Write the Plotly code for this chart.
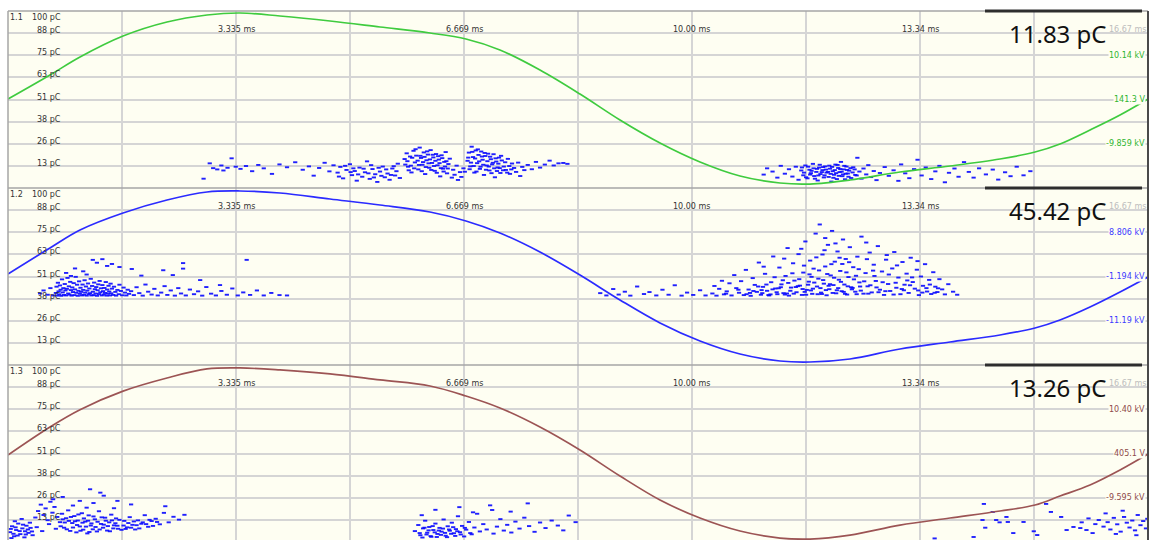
import plotly.graph_objects as go

# ---------------------------------------------------------------- layout sizes
FIG_W, FIG_H = 1151, 540
M_L, M_R, M_T, M_B = 8, 3, 11, 0
PANEL_PX = 177                      # height of one phase panel in pixels
PERIOD_MS = 16.67                   # one 60 Hz cycle

# ---------------------------------------------------------------- axis labels
pc_levels = [100, 87.625, 75.25, 62.875, 50.5, 38.125, 25.75, 13.375, 1.0]
pc_labels = ["100 pC", "88 pC", "75 pC", "63 pC", "51 pC", "38 pC", "26 pC", "13 pC", "1.0 pC"]
ms_label_pos = [3.335, 6.669, 10.00, 13.34, 16.67]
ms_labels = ["3.335 ms", "6.669 ms", "10.00 ms", "13.34 ms", "16.67 ms"]

panel_ids = ["1.1", "1.2", "1.3"]
peak_labels = ["11.83 pC", "45.42 pC", "13.26 pC"]
kv_labels = [["10.14 kV", "141.3 V", "-9.859 kV"],
             ["8.806 kV", "-1.194 kV", "-11.19 kV"],
             ["10.40 kV", "405.1 V", "-9.595 kV"]]
kv_values = [[10.14, 0.1413, -9.859],
             [8.806, -1.194, -11.19],
             [10.40, 0.4051, -9.595]]
trace_colors = ["#3fcb3f", "#2b2bff", "#9c5454"]
kv_label_colors = ["#2fb52f", "#3a3aff", "#8e4a4a"]

# ---------------------------------------------------------------- test voltage (kV)
wave_ms = [0.0, 0.614, 1.053, 1.682, 2.325, 2.910, 3.393, 3.977, 4.709, 5.440,
           6.171, 6.697, 7.194, 7.779, 8.364, 8.949, 9.534, 10.119, 10.704, 11.289,
           11.727, 12.312, 13.044, 13.775, 14.506, 15.018, 15.383, 15.822, 16.261, 16.670]
wave_kv_1 = [0.25, 5.68, 9.75, 14.49, 17.66, 19.24, 19.69, 19.01, 17.88, 16.53,
             15.17, 13.81, 11.33, 6.81, 1.38, -4.49, -9.69, -13.98, -17.15, -18.73,
             -18.96, -18.05, -16.24, -14.89, -13.31, -11.73, -9.92, -6.76, -3.37, 0.25]
wave_kv_2 = [-0.63, 5.25, 9.32, 13.16, 16.09, 17.90, 18.13, 17.68, 16.32, 14.96,
             13.38, 11.35, 8.64, 4.34, -0.86, -6.50, -11.70, -15.77, -18.71, -20.29,
             -20.52, -19.84, -17.58, -15.99, -14.41, -12.83, -11.02, -8.09, -4.70, -1.31]
wave_kv_3 = [0.07, 6.40, 10.30, 14.50, 17.47, 19.50, 19.73, 19.28, 18.37, 17.02,
             15.66, 13.40, 10.69, 6.39, 1.20, -4.68, -10.10, -14.17, -17.11, -18.69,
             -18.92, -18.02, -15.76, -14.17, -12.59, -11.23, -9.20, -6.71, -3.32, 0.29]

# ---------------------------------------------------------------- PD pulses (ms, pC)
pulses_1 = [
    (2.86, 6.2), (2.95, 14.8), (3.00, 12.1), (3.06, 11.4), (3.12, 13.6), (3.15, 10.8), (3.21, 12.3),
    (3.27, 17.6), (3.33, 12.9), (3.40, 11.7), (3.48, 13.3), (3.57, 10.4), (3.66, 13.9), (3.74, 12.0),
    (3.86, 8.9), (3.97, 14.2), (4.08, 12.6), (4.20, 15.4), (4.31, 11.2), (4.40, 13.1), (4.47, 7.9),
    (4.55, 12.2), (4.63, 15.1), (4.70, 10.3), (4.76, 13.7),
    (4.82, 9.6), (4.86, 12.8), (4.90, 6.4), (4.95, 11.1), (5.00, 14.3), (5.03, 8.2), (5.07, 10.5),
    (5.10, 5.1), (5.14, 12.4), (5.18, 7.3), (5.22, 9.8), (5.25, 15.9), (5.29, 6.1), (5.33, 11.6),
    (5.37, 8.7), (5.40, 4.4), (5.44, 10.2), (5.48, 13.0), (5.51, 7.0), (5.55, 9.1), (5.58, 5.6),
    (5.62, 11.9), (5.66, 8.0), (5.70, 14.6), (5.73, 6.6),
    (4.84, 7.4), (4.93, 13.4), (5.01, 9.9), (5.05, 12.0), (5.12, 8.6), (5.20, 11.8), (5.27, 9.2),
    (5.31, 13.8), (5.35, 6.9), (5.42, 12.3), (5.46, 7.8), (5.53, 11.4), (5.60, 8.3), (5.64, 13.2),
    (5.68, 10.4),
    (5.80, 17.2), (5.83, 20.4), (5.85, 12.9), (5.88, 18.6), (5.90, 9.7), (5.93, 21.8), (5.95, 15.3),
    (5.97, 19.1), (6.00, 11.4), (6.02, 23.6), (6.04, 17.8), (6.06, 14.0), (6.08, 20.9), (6.10, 8.8),
    (6.12, 16.5), (6.14, 19.7), (6.16, 12.3), (6.18, 22.2), (6.20, 15.0), (6.22, 18.1), (6.24, 10.6),
    (6.26, 20.0), (6.28, 13.7), (6.30, 16.9), (6.32, 7.5), (6.34, 19.3), (6.36, 11.8), (6.38, 15.6),
    (6.40, 21.1), (6.42, 9.2), (6.44, 14.4), (6.46, 17.4),
    (5.81, 14.1), (5.84, 16.0), (5.86, 10.9), (5.89, 13.5), (5.91, 17.9), (5.94, 12.0), (5.96, 22.7),
    (5.99, 16.3), (6.01, 13.9), (6.03, 19.0), (6.05, 10.4), (6.07, 15.5), (6.09, 18.4), (6.11, 12.7),
    (6.13, 21.5), (6.15, 14.8), (6.17, 17.0), (6.19, 11.1), (6.21, 19.6), (6.23, 13.3), (6.25, 16.2),
    (6.27, 9.5), (6.29, 18.8), (6.31, 14.9), (6.33, 12.1), (6.35, 17.7), (6.37, 10.2), (6.39, 13.0),
    (6.41, 16.0), (6.43, 11.9),
    (6.49, 6.8), (6.51, 11.2), (6.53, 8.4), (6.56, 13.5), (6.58, 5.5), (6.61, 9.9), (6.63, 7.2),
    (6.66, 12.0), (6.68, 10.1),
    (6.72, 16.2), (6.74, 20.8), (6.76, 13.1), (6.78, 24.1), (6.80, 18.3), (6.82, 9.6), (6.84, 22.0),
    (6.86, 14.9), (6.88, 19.5), (6.90, 11.7), (6.92, 21.4), (6.94, 16.8), (6.96, 8.3), (6.98, 18.9),
    (7.00, 13.6), (7.02, 20.2), (7.04, 10.8), (7.06, 17.1), (7.08, 14.2), (7.10, 19.9), (7.12, 7.0),
    (7.14, 15.8), (7.16, 12.5), (7.18, 18.0), (7.20, 9.4), (7.22, 16.4), (7.25, 13.0), (7.28, 11.1),
    (7.31, 17.3), (7.34, 8.9), (7.37, 14.7), (7.40, 12.2), (7.43, 10.0), (7.46, 15.2), (7.49, 7.7),
    (7.52, 12.8), (7.55, 11.0),
    (6.73, 18.0), (6.75, 11.5), (6.77, 15.2), (6.79, 21.2), (6.81, 13.3), (6.83, 17.5), (6.85, 10.2),
    (6.87, 22.6), (6.89, 15.9), (6.91, 12.9), (6.93, 18.6), (6.95, 14.0), (6.97, 20.6), (6.99, 11.2),
    (7.01, 16.0), (7.03, 13.0), (7.05, 18.5), (7.07, 9.3), (7.09, 15.1), (7.11, 12.0), (7.13, 17.6),
    (7.15, 10.5), (7.17, 14.6), (7.19, 12.1), (7.21, 19.0), (7.24, 10.9), (7.27, 15.4), (7.30, 9.6),
    (7.33, 13.3), (7.36, 11.4),
    (7.60, 13.9), (7.66, 11.5), (7.72, 15.6), (7.78, 12.4), (7.85, 14.1), (7.92, 16.3), (7.98, 13.6),
    (8.05, 14.8), (8.12, 15.0), (8.18, 14.5),
    (11.05, 8.5), (11.10, 12.0), (11.18, 10.2), (11.25, 6.8), (11.30, 13.4), (11.36, 9.0), (11.42, 11.5),
    (11.47, 7.4), (11.52, 12.9), (11.56, 5.6), (11.60, 10.8), (11.63, 8.1), (11.66, 13.6), (11.69, 6.4),
    (11.72, 11.2), (11.74, 9.3), (11.77, 14.5), (11.79, 7.7), (11.82, 10.0), (11.84, 5.2), (11.86, 12.4),
    (11.88, 8.8), (11.91, 11.0), (11.93, 6.9), (11.95, 13.1), (11.97, 9.6), (12.00, 7.2), (12.02, 11.8),
    (12.04, 4.6), (12.06, 10.4), (12.08, 8.4), (12.10, 14.1), (12.12, 6.0), (12.14, 12.2), (12.16, 9.9),
    (12.18, 15.6), (12.20, 7.6), (12.22, 11.4), (12.24, 5.9), (12.26, 13.0), (12.28, 9.1), (12.30, 10.7),
    (12.33, 6.6), (12.36, 12.6), (12.39, 8.3), (12.42, 17.9), (12.45, 10.2), (12.48, 6.2), (12.51, 11.9),
    (12.55, 8.6), (12.58, 13.8), (12.62, 7.1), (12.66, 10.5), (12.70, 5.4), (12.75, 9.4),
    (11.61, 12.5), (11.64, 9.6), (11.67, 7.0), (11.70, 12.9), (11.73, 8.5), (11.75, 10.6), (11.78, 12.0),
    (11.80, 6.2), (11.83, 11.7), (11.85, 8.0), (11.87, 14.0), (11.90, 9.9), (11.92, 12.7), (11.94, 8.1),
    (11.96, 11.3), (11.99, 10.0), (12.01, 13.5), (12.03, 8.9), (12.05, 12.8), (12.07, 6.7), (12.09, 11.0),
    (12.11, 9.3), (12.13, 13.9), (12.15, 7.8), (12.17, 11.6), (12.19, 10.1), (12.21, 8.6), (12.23, 13.4),
    (12.25, 9.0), (12.27, 11.1), (12.29, 7.3), (12.32, 12.1), (12.35, 9.7), (12.38, 11.4), (12.41, 8.0),
    (12.82, 12.7), (12.88, 7.8), (12.95, 10.9), (13.02, 5.0), (13.06, 14.2), (13.12, 9.2), (13.18, 6.5),
    (13.25, 11.6), (13.30, 16.8), (13.36, 8.0), (13.42, 12.5), (13.50, 6.0), (13.56, 10.3), (13.62, 13.4),
    (13.70, 4.2), (13.76, 9.5), (13.84, 11.9), (13.90, 7.3), (13.98, 15.5), (14.05, 10.0), (14.12, 6.8),
    (14.20, 12.0), (14.30, 8.6), (14.40, 11.3), (14.48, 5.7), (14.58, 9.8), (14.66, 7.6), (14.75, 12.9),
    (14.85, 8.1), (14.95, 10.4),
]

pulses_2 = [
    (0.47, 41.0), (0.52, 42.7), (0.58, 40.3), (0.62, 44.0), (0.66, 39.9),
    (0.70, 41.3), (0.71, 44.8), (0.72, 39.8), (0.73, 47.0), (0.74, 42.2), (0.75, 40.5), (0.76, 45.5),
    (0.77, 43.1), (0.78, 39.7), (0.79, 48.9), (0.80, 41.6), (0.81, 44.0), (0.82, 40.2), (0.83, 46.3),
    (0.84, 42.7), (0.85, 39.9), (0.86, 43.6), (0.87, 49.7), (0.88, 41.0), (0.89, 45.0), (0.90, 40.4),
    (0.91, 47.5), (0.92, 42.9), (0.93, 39.8), (0.94, 44.4), (0.95, 41.8), (0.96, 46.8), (0.97, 40.1),
    (0.98, 43.3), (0.99, 50.3), (1.00, 41.4), (1.01, 45.9), (1.02, 39.7), (1.03, 42.5), (1.04, 47.8),
    (1.05, 40.8), (1.06, 44.2), (1.07, 41.9), (1.08, 39.9), (1.09, 46.0), (1.10, 43.0), (1.11, 40.3),
    (1.12, 48.4), (1.13, 41.5), (1.14, 44.9), (1.15, 39.8), (1.16, 42.6), (1.17, 46.6), (1.18, 40.6),
    (1.19, 43.8), (1.20, 41.2), (1.21, 49.2), (1.22, 39.9), (1.23, 45.2), (1.24, 42.0), (1.25, 40.1),
    (1.26, 47.1), (1.27, 43.4), (1.28, 41.0), (1.29, 44.6), (1.30, 39.7), (1.31, 42.8), (1.32, 46.1),
    (1.33, 40.7), (1.34, 48.0), (1.35, 41.7), (1.36, 43.9), (1.37, 39.9), (1.38, 45.7), (1.39, 42.3),
    (1.40, 40.4), (1.41, 44.1), (1.42, 41.3), (1.43, 47.4), (1.44, 39.8), (1.45, 43.2), (1.46, 40.9),
    (1.47, 45.3), (1.48, 42.1), (1.49, 39.9), (1.50, 46.5), (1.51, 41.1), (1.52, 43.7), (1.54, 40.2),
    (1.55, 44.8), (1.57, 41.9), (1.58, 39.8), (1.60, 43.0), (1.62, 40.6), (1.63, 45.9), (1.65, 42.4),
    (1.67, 40.0), (1.69, 44.3), (1.71, 41.5), (1.73, 39.9), (1.75, 43.1), (1.77, 40.8),
    (0.85, 52.5), (0.98, 55.0), (1.10, 53.4), (1.24, 59.8), (1.30, 58.2), (1.38, 60.2), (1.45, 56.4),
    (1.52, 57.5), (1.63, 55.8), (1.81, 54.7), (2.27, 54.0), (2.41, 51.3), (2.56, 58.0), (2.56, 54.9),
    (2.81, 48.5), (3.10, 45.7), (3.49, 59.8), (1.95, 51.0), (1.15, 51.6), (0.92, 50.8),
    (1.80, 42.3), (1.84, 40.1), (1.88, 44.5), (1.92, 41.2), (1.97, 39.8), (2.01, 46.0), (2.05, 42.0),
    (2.10, 40.4), (2.14, 43.6), (2.19, 39.9), (2.24, 41.5), (2.29, 45.1), (2.33, 40.2), (2.38, 42.7),
    (2.44, 39.8), (2.49, 44.0), (2.53, 41.0), (2.60, 39.9), (2.66, 43.2), (2.72, 40.6), (2.78, 42.2),
    (2.84, 39.8), (2.90, 44.6), (2.97, 40.9), (3.04, 39.9), (3.12, 42.4), (3.20, 40.3), (3.28, 43.8),
    (3.36, 39.9), (3.44, 41.6), (3.54, 40.2), (3.64, 42.7), (3.74, 39.9), (3.85, 41.3), (3.97, 40.1),
    (4.08, 39.9),
    (8.66, 41.2), (8.75, 39.9), (8.85, 43.5), (8.93, 40.4), (9.02, 42.0), (9.10, 39.8), (9.20, 44.9),
    (9.30, 40.7), (9.38, 41.8), (9.48, 39.9), (9.57, 43.1), (9.66, 40.3), (9.75, 45.6), (9.85, 39.8),
    (9.93, 41.5), (10.02, 40.2), (10.12, 42.8), (10.20, 39.9),
    (10.30, 41.0), (10.33, 45.2), (10.36, 39.8), (10.40, 43.6), (10.44, 48.1), (10.47, 40.5), (10.51, 42.2),
    (10.55, 46.7), (10.58, 39.9), (10.62, 51.3), (10.65, 44.0), (10.69, 41.4), (10.72, 47.9), (10.76, 40.1),
    (10.79, 54.2), (10.83, 43.2), (10.86, 39.7), (10.89, 49.6), (10.92, 45.8), (10.95, 41.9), (10.98, 58.3),
    (11.01, 40.3), (11.04, 44.7), (11.07, 52.0), (11.10, 42.5), (11.13, 39.9), (11.16, 47.3), (11.19, 61.7),
    (11.22, 43.8), (11.25, 40.6), (11.28, 55.5), (11.31, 46.1), (11.34, 41.2), (11.37, 50.8), (11.40, 66.4),
    (11.42, 39.8), (11.45, 44.3), (11.48, 57.9), (11.50, 48.2), (11.53, 41.7), (11.56, 63.0), (11.58, 45.4),
    (11.61, 40.2), (11.63, 52.7), (11.66, 70.1), (11.68, 43.0), (11.71, 47.6), (11.73, 59.4), (11.76, 40.8),
    (11.78, 54.9), (11.81, 74.5), (11.83, 44.9), (11.85, 49.3), (11.87, 79.6), (11.89, 41.5), (11.91, 62.8),
    (11.93, 46.5), (11.95, 56.1), (11.97, 40.0), (11.99, 68.2), (12.01, 43.4), (12.03, 51.1), (12.05, 76.0),
    (12.07, 45.7), (12.09, 58.8), (12.11, 41.1), (12.13, 64.5), (12.15, 48.7), (12.17, 53.6), (12.19, 42.3),
    (12.21, 71.2), (12.23, 46.0), (12.25, 60.3), (12.27, 40.4), (12.29, 50.2), (12.31, 66.9), (12.33, 44.5),
    (12.36, 55.7), (12.39, 42.0), (12.42, 61.6), (12.45, 47.2), (12.48, 72.8), (12.51, 40.9), (12.54, 52.4),
    (12.57, 45.0), (12.60, 63.9), (12.63, 41.6), (12.66, 57.1), (12.69, 48.0), (12.72, 67.5), (12.75, 43.1),
    (12.78, 53.3), (12.81, 40.2), (12.84, 59.9), (12.87, 46.3), (12.90, 42.4), (12.93, 55.0), (12.96, 64.2),
    (12.99, 44.2), (13.02, 49.9), (13.05, 40.6), (13.08, 58.6), (13.11, 45.9), (13.14, 52.1), (13.17, 41.3),
    (13.20, 61.0), (13.23, 47.4), (13.26, 43.7), (13.29, 54.3), (13.32, 40.1), (13.35, 50.5), (13.38, 45.3),
    (13.41, 57.4), (13.44, 42.1), (13.47, 48.6), (13.50, 40.7), (13.53, 52.9), (13.56, 44.8), (13.59, 41.8),
    (13.62, 49.0), (13.66, 43.3), (13.70, 40.5), (13.75, 46.2), (13.82, 42.0), (13.88, 40.3),
    (10.50, 40.9), (10.68, 43.1), (10.85, 41.3), (11.02, 42.9), (11.15, 40.5), (11.27, 43.9), (11.39, 41.0),
    (11.52, 44.6), (11.65, 41.9), (11.77, 43.7), (11.90, 40.7), (12.00, 45.3), (12.12, 42.8), (12.24, 40.8),
    (12.35, 44.1), (12.47, 42.6), (12.58, 40.9), (12.70, 44.4), (12.83, 42.3), (12.95, 40.4), (13.07, 43.5),
    (13.19, 45.6), (13.31, 42.7), (13.43, 44.0), (13.55, 41.4),
    (11.05, 56.0), (11.35, 60.5), (11.60, 66.0), (11.75, 50.3), (11.95, 72.0), (12.10, 69.0), (12.20, 57.5),
    (12.40, 50.9), (12.55, 69.5), (12.65, 53.8), (12.85, 62.5), (13.00, 56.7), (13.15, 48.3), (13.30, 59.1),
    (10.80, 40.6), (10.90, 42.4), (10.97, 44.9), (11.03, 41.2), (11.09, 46.0), (11.12, 40.1), (11.18, 43.3),
    (11.21, 50.1), (11.24, 41.7), (11.30, 44.5), (11.33, 48.4), (11.36, 40.4), (11.41, 46.9), (11.44, 42.5),
    (11.47, 52.3), (11.49, 40.9), (11.55, 45.1), (11.57, 49.0), (11.62, 43.5), (11.64, 56.6), (11.67, 40.3),
    (11.70, 45.9), (11.72, 51.7), (11.74, 42.7), (11.79, 47.1), (11.82, 61.2), (11.84, 40.6), (11.86, 53.9),
    (11.88, 44.0), (11.92, 48.5), (11.94, 65.2), (11.96, 42.9), (11.98, 51.9), (12.02, 46.2), (12.04, 57.4),
    (12.06, 41.3), (12.08, 49.8), (12.14, 44.0), (12.16, 61.0), (12.18, 47.5), (12.22, 41.9), (12.26, 52.8),
    (12.28, 45.0), (12.30, 58.5), (12.34, 43.3), (12.37, 48.9), (12.41, 40.6), (12.44, 54.6), (12.46, 44.9),
    (12.52, 47.8), (12.56, 60.2), (12.61, 45.6), (12.67, 50.8), (12.73, 41.7), (12.79, 47.3), (12.88, 51.6),
    (12.98, 47.0), (13.10, 42.8), (13.22, 50.0), (13.37, 41.5), (13.48, 46.0), (13.60, 43.9),
]

pulses_3 = [
    (0.03, 6.5), (0.06, 9.8), (0.09, 4.2), (0.12, 7.7), (0.15, 11.3), (0.18, 5.4), (0.21, 8.6),
    (0.24, 3.6), (0.27, 10.1), (0.30, 6.1), (0.33, 8.9), (0.36, 4.8), (0.10, 12.6), (0.20, 13.9),
    (0.05, 3.2), (0.25, 7.0), (0.32, 11.8),
    (0.04, 8.3), (0.08, 5.6), (0.11, 9.2), (0.14, 4.6), (0.17, 7.1), (0.22, 10.7), (0.26, 5.2),
    (0.29, 8.0), (0.35, 6.9),
    (0.40, 14.7), (0.44, 18.3), (0.48, 21.9), (0.52, 16.1), (0.55, 19.8), (0.58, 13.2), (0.62, 23.5),
    (0.65, 17.4), (0.68, 20.6), (0.72, 15.0), (0.42, 9.3), (0.50, 7.1), (0.60, 11.0), (0.70, 8.4),
    (0.76, 12.1), (0.79, 16.8), (0.82, 9.0), (0.85, 14.3), (0.88, 18.7), (0.91, 7.2), (0.94, 11.6),
    (0.97, 15.5), (1.00, 6.4), (1.02, 13.0), (1.05, 9.7), (1.08, 17.1), (1.10, 7.9), (1.13, 12.4),
    (1.16, 5.8), (1.18, 15.9), (1.21, 10.2), (1.24, 8.1), (1.27, 13.7), (1.30, 6.9), (1.33, 18.2),
    (1.36, 11.1), (1.39, 9.0), (1.42, 14.6), (1.45, 7.4), (1.48, 12.0), (1.51, 16.3), (1.54, 8.6),
    (1.57, 11.5), (1.60, 10.1), (1.63, 13.4), (1.66, 7.8),
    (0.77, 9.8), (0.80, 13.7), (0.83, 11.9), (0.86, 8.1), (0.89, 12.8), (0.92, 15.0), (0.95, 9.1),
    (0.98, 12.6), (1.01, 10.5), (1.03, 16.4), (1.06, 7.3), (1.09, 11.8), (1.11, 14.2), (1.14, 9.6),
    (1.17, 12.9), (1.19, 6.6), (1.22, 11.4), (1.25, 15.3), (1.28, 9.4), (1.31, 12.3), (1.34, 8.0),
    (1.37, 14.8), (1.40, 10.7), (1.43, 12.9), (1.46, 9.9), (1.49, 7.0), (1.52, 13.1), (1.55, 10.3),
    (1.58, 14.2), (1.61, 8.4),
    (0.95, 21.4), (1.05, 24.0), (1.15, 20.2), (1.25, 22.8), (1.40, 26.9), (1.55, 19.9), (1.35, 28.6),
    (1.20, 30.5), (0.80, 26.2), (0.66, 24.9),
    (1.70, 12.8), (1.74, 9.2), (1.78, 14.9), (1.82, 10.6), (1.86, 8.0), (1.90, 13.1), (1.95, 11.2),
    (2.00, 16.0), (2.05, 9.5), (2.10, 12.7), (2.16, 14.0), (2.22, 10.9), (2.28, 17.3), (2.35, 12.0),
    (2.42, 15.1), (2.50, 13.5), (2.58, 16.2), (1.80, 22.0), (2.30, 21.0), (1.60, 24.0),
    (1.69, 10.2), (1.72, 8.3), (1.76, 11.6), (1.80, 9.0), (1.84, 12.5), (1.88, 10.4), (1.92, 8.6),
    (1.97, 12.0), (2.02, 11.0), (2.07, 13.4), (2.12, 10.0), (2.18, 12.2),
    (5.95, 7.1), (6.00, 10.5), (6.03, 4.8), (6.07, 8.6), (6.10, 12.9), (6.13, 6.2), (6.16, 9.4),
    (6.19, 3.9), (6.22, 7.7), (6.25, 11.3), (6.28, 5.5), (6.31, 8.9), (6.34, 6.8), (6.37, 13.6),
    (6.40, 4.5), (6.43, 9.8), (6.46, 7.3), (6.49, 11.8), (6.52, 5.9), (6.55, 8.2), (6.58, 15.4),
    (6.61, 6.5), (6.64, 10.0), (6.67, 4.1), (6.70, 7.9), (6.74, 12.2), (6.78, 5.3), (6.82, 9.1),
    (6.86, 16.8), (6.90, 6.9), (6.95, 11.0), (7.00, 8.0), (7.05, 21.5), (7.08, 18.9), (7.10, 5.7),
    (7.15, 9.6), (7.20, 13.8), (7.25, 7.4), (7.30, 10.6), (7.36, 6.3), (7.42, 12.4), (7.48, 8.5),
    (7.55, 14.6), (7.62, 9.9), (7.70, 6.7), (7.78, 11.9), (7.86, 8.8), (7.95, 13.0), (8.04, 10.2),
    (8.12, 7.5), (8.20, 15.8), (8.30, 12.1), (6.05, 16.0), (6.25, 19.0), (6.60, 20.5), (6.80, 17.6),
    (7.35, 18.0), (7.60, 22.6),
    (6.02, 6.0), (6.06, 3.5), (6.09, 9.0), (6.12, 5.2), (6.15, 7.5), (6.18, 4.3), (6.21, 9.9),
    (6.24, 6.4), (6.27, 3.8), (6.30, 7.4), (6.33, 5.0), (6.36, 8.5), (6.39, 6.1), (6.42, 3.7),
    (6.45, 8.0), (6.48, 5.6), (6.51, 9.3), (6.54, 4.4), (6.57, 7.0), (6.62, 5.2), (6.68, 8.9),
    (6.76, 6.0),
    (13.55, 3.0), (14.12, 3.8), (14.27, 22.3), (14.25, 13.3), (14.29, 9.0), (14.40, 17.8), (14.45, 13.3),
    (14.50, 12.0), (14.60, 15.0), (14.62, 12.2), (14.70, 6.0), (14.85, 12.2), (15.00, 7.0), (15.05, 4.9),
    (15.18, 22.3), (15.25, 17.8), (15.40, 15.0), (15.48, 7.7), (15.58, 9.4), (15.68, 8.8), (15.77, 7.7),
    (15.86, 6.0), (15.90, 11.0), (15.95, 13.3), (16.02, 9.6), (16.08, 12.1), (16.12, 8.0), (16.17, 14.5),
    (16.22, 10.9), (16.27, 6.8), (16.32, 15.0), (16.36, 11.8), (16.40, 9.1), (16.44, 13.0), (16.48, 7.5),
    (16.52, 16.1), (16.56, 10.4), (16.60, 12.7), (16.64, 8.6), (16.66, 14.0), (15.80, 14.2), (16.05, 17.0),
    (16.30, 18.5), (16.50, 4.8), (16.20, 5.5), (15.70, 12.0),
]

waves = [wave_kv_1, wave_kv_2, wave_kv_3]
pulses = [pulses_1, pulses_2, pulses_3]

# ---------------------------------------------------------------- styling
PLOT_BG = "#fefef2"
GRID = "#d5d5d5"
TEXT = "#333333"
SMALL_FONT = "DejaVu Sans"
PULSE_COLOR = "rgba(8,8,255,0.9)"

plot_h = FIG_H - M_T - M_B
plot_w = FIG_W - M_L - M_R
PC_PER_PX = (pc_levels[0] - pc_levels[-1]) / PANEL_PX


def px_to_paper_x(px):
    return (px - M_L) / plot_w


fig = go.Figure()
layout = dict(
    width=FIG_W, height=FIG_H,
    margin=dict(l=M_L, r=M_R, t=M_T, b=M_B, pad=0),
    paper_bgcolor="white", plot_bgcolor=PLOT_BG,
    showlegend=False,
)
annotations = []
separators = []
box_edges = []

for k in range(3):
    i = k + 1
    top_px = k * PANEL_PX
    bot_px = min((k + 1) * PANEL_PX, plot_h)
    dom = [1 - bot_px / plot_h, 1 - top_px / plot_h]
    pc_lo = pc_levels[0] - (bot_px - top_px) * PC_PER_PX
    pc_range = [pc_lo, pc_levels[0]]

    # voltage axis shares the panel: middle label on the 51 pC line, 10 kV per two grid steps
    v_top, v_mid, _ = kv_values[k]
    kv_per_pc = (v_top - v_mid) / (pc_levels[2] - pc_levels[4])
    v_range = [v_mid + (r - pc_levels[4]) * kv_per_pc for r in pc_range]

    xa, ya, va = f"x{i}", f"y{i}", f"y{i + 3}"
    layout[f"xaxis{i}"] = dict(
        domain=[0, 1], range=[0, PERIOD_MS], anchor=ya,
        tick0=0, dtick=PERIOD_MS / 10, showticklabels=False, ticks="",
        showgrid=True, gridcolor=GRID, gridwidth=2, zeroline=False, showline=False,
    )
    layout[f"yaxis{i}"] = dict(
        domain=dom, range=pc_range, anchor=xa,
        tickvals=pc_levels, showticklabels=False, ticks="",
        showgrid=True, gridcolor=GRID, gridwidth=2, zeroline=False, showline=False,
    )
    layout[f"yaxis{i + 3}"] = dict(
        range=v_range, overlaying=ya, anchor=xa, side="right",
        showgrid=False, showticklabels=False, ticks="", zeroline=False, showline=False,
    )

    ms_vals = [p[0] for p in pulses[k]]
    pc_vals = [p[1] for p in pulses[k]]
    fig.add_trace(go.Scatter(
        x=ms_vals, y=pc_vals, mode="markers", xaxis=xa, yaxis=ya,
        marker=dict(symbol="line-ew", size=3, line=dict(width=1.9, color=PULSE_COLOR)),
        hoverinfo="skip",
    ))
    fig.add_trace(go.Scatter(
        x=wave_ms, y=waves[k], mode="lines", xaxis=xa, yaxis=va,
        line=dict(color=trace_colors[k], width=1.7, shape="spline", smoothing=1.0),
        hoverinfo="skip",
    ))

    # charge scale labels on the left
    for lvl, lab in zip(pc_levels, pc_labels):
        first = lvl == pc_levels[0]
        annotations.append(dict(
            xref="paper", x=px_to_paper_x(63), xanchor="right",
            yref=ya, y=lvl, yanchor="top" if first else "bottom",
            yshift=0 if first else -4,
            text=lab, showarrow=False, font=dict(family=SMALL_FONT, size=8, color=TEXT),
        ))
    # panel id
    annotations.append(dict(
        xref="paper", x=0, xanchor="left", yref=ya, y=pc_levels[0], yanchor="top",
        text=panel_ids[k], showarrow=False, font=dict(family=SMALL_FONT, size=8, color=TEXT),
    ))
    # phase time labels
    for pos, lab in zip(ms_label_pos, ms_labels):
        last = pos == ms_label_pos[-1]
        annotations.append(dict(
            xref=xa, x=pos, xanchor="right" if last else "center",
            yref=ya, y=pc_levels[1], yanchor="bottom", yshift=-3,
            text=lab, showarrow=False,
            font=dict(family=SMALL_FONT, size=8, color="#bdbdbd" if last else TEXT),
        ))
    # voltage labels on the right
    for v, lab in zip(kv_values[k], kv_labels[k]):
        annotations.append(dict(
            xref="paper", x=px_to_paper_x(1146), xanchor="right",
            yref=va, y=v, yanchor="middle",
            text=lab, showarrow=False, bgcolor=PLOT_BG, borderpad=0,
            font=dict(family=SMALL_FONT, size=8, color=kv_label_colors[k]),
        ))
    # peak charge readout
    annotations.append(dict(
        xref="paper", x=px_to_paper_x(1058), xanchor="center",
        yref=ya, y=pc_levels[0] - 22 * PC_PER_PX, yanchor="middle",
        text=peak_labels[k], showarrow=False,
        font=dict(family="Noto Sans", size=24, color="#111111"),
    ))
    # panel separator, then the readout box top edge drawn over it
    separators.append(dict(
        type="line", xref="paper", yref="paper",
        x0=0, x1=1, y0=dom[1], y1=dom[1], line=dict(color="#a6a6a6", width=1.5),
    ))
    box_edges.append(dict(
        type="line", xref="paper", yref="paper",
        x0=px_to_paper_x(985), x1=px_to_paper_x(1142), y0=dom[1], y1=dom[1],
        line=dict(color="#2e2e2e", width=3),
    ))

# left and right frame edges
frame = [
    dict(type="line", xref="paper", yref="paper", x0=0, x1=0, y0=0, y1=1,
         line=dict(color="#a6a6a6", width=1.5)),
    dict(type="line", xref="paper", yref="paper", x0=1, x1=1, y0=0, y1=1,
         line=dict(color="#4a4a4a", width=2)),
]

layout["annotations"] = annotations
layout["shapes"] = separators + frame + box_edges
fig.update_layout(**layout)
fig.write_html("out.html")
